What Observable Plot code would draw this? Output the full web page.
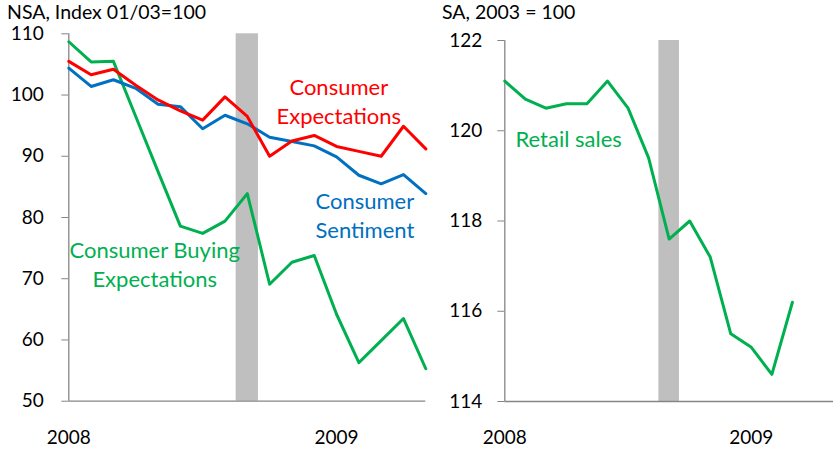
<!DOCTYPE html>
<html>
<head>
<meta charset="utf-8">
<script src="https://cdn.jsdelivr.net/npm/d3@7"></script>
<script src="https://cdn.jsdelivr.net/npm/@observablehq/plot@0.6"></script>
<style>
  html, body { margin: 0; padding: 0; background: #fff; }
  #wrap { position: relative; width: 833px; height: 456px; overflow: hidden; font-family: Lato, sans-serif; }
  .panel { position: absolute; top: 0; }
  .title { position: absolute; font-size: 19.5px; color: #000; white-space: nowrap; line-height: 22px; height: 22px; }
</style>
</head>
<body>
<div id="wrap">
  <div class="panel" id="left" style="left:0px;"></div>
  <div class="panel" id="right" style="left:430px;"></div>
  <div class="title" id="t1" style="left:7px; top:1px;">NSA, Index 01/03=100</div>
  <div class="title" id="t2" style="left:442px; top:1px;">SA, 2003 = 100</div>
</div>
<script>
// ---- data ----
const months = ["2008-01","2008-02","2008-03","2008-04","2008-05","2008-06","2008-07","2008-08","2008-09",
                "2008-10","2008-11","2008-12","2009-01","2009-02","2009-03","2009-04","2009-05"];
const buyingExpectations   = [108.7,105.4,105.5,96.5,87.5,78.6,77.4,79.4,83.9,69.1,72.7,73.8,64.2,56.3,59.9,63.5,55.3];
const consumerExpectations = [105.5,103.3,104.2,101.6,99.2,97.4,95.9,99.7,96.5,90.0,92.5,93.4,91.6,90.8,90.0,94.9,91.2];
const consumerSentiment    = [104.4,101.4,102.5,101.1,98.5,98.1,94.5,96.7,95.3,93.1,92.4,91.7,89.9,86.9,85.5,87.0,83.9];
const retailMonths = months.slice(0, 15);
const retailSales = [121.1,120.7,120.5,120.6,120.6,121.1,120.5,119.4,117.6,118.0,117.2,115.5,115.2,114.6,116.2];
const eventMonth = "2008-09";
const leftTicks = [50,60,70,80,90,100,110];
const rightTicks = [114,116,118,120,122];
const yearTicks = ["2008-01","2009-01"];

const C_GREEN = "#00B050", C_RED = "#FF0000", C_BLUE = "#0070C0", C_AXIS = "#868686", C_BAR = "#BFBFBF";

const rows = (vals, ms) => vals.map((v, i) => ({i, month: ms[i], v}));
const ev = months.indexOf(eventMonth);
const yearIdx = yearTicks.map(m => months.indexOf(m));
const fmtYear = i => months[i] ? months[i].slice(0, 4) : "";

const baseStyle = {fontFamily: "Lato, sans-serif", fontSize: "18px", color: "#000", background: "transparent", overflow: "visible"};

// ---- left panel ----
const left = Plot.plot({
  width: 426, height: 456,
  marginLeft: 68.3, marginRight: 0.7, marginTop: 33.3, marginBottom: 55.3,
  style: baseStyle,
  x: {type: "linear", domain: [0, 16], label: null},
  y: {domain: [50, 110], label: null},
  marks: [
    Plot.rect([ev], {x1: d => d - 0.5, x2: d => d + 0.5, y1: 50, y2: 110, fill: C_BAR}),
    Plot.ruleX([0], {stroke: C_AXIS, strokeWidth: 1.3}),
    Plot.ruleY([50], {stroke: C_AXIS, strokeWidth: 1.3}),
    Plot.axisY({ticks: leftTicks, label: null, tickSize: 7, tickPadding: 18, stroke: C_AXIS, fill: "#000", fontSize: 19}),
    Plot.axisX({ticks: yearIdx, label: null, tickFormat: fmtYear, tickSize: 0, tickPadding: 29, fill: "#000", fontSize: 19}),
    Plot.lineY(rows(buyingExpectations, months), {x: "i", y: "v", stroke: C_GREEN, strokeWidth: 3}),
    Plot.lineY(rows(consumerSentiment, months), {x: "i", y: "v", stroke: C_BLUE, strokeWidth: 3}),
    Plot.lineY(rows(consumerExpectations, months), {x: "i", y: "v", stroke: C_RED, strokeWidth: 3}),
    Plot.text(["Consumer Buying\nExpectations"], {x: 3.85, y: 72.5, fill: C_GREEN, fontSize: 22, lineHeight: 1.32}),
    Plot.text(["Consumer\nExpectations"], {x: 12.1, y: 99.2, fill: C_RED, fontSize: 22, lineHeight: 1.32}),
    Plot.text(["Consumer\nSentiment"], {x: 13.27, y: 80.6, fill: C_BLUE, fontSize: 22, lineHeight: 1.32})
  ]
});
document.getElementById("left").appendChild(left);

// ---- right panel ----
const right = Plot.plot({
  width: 403, height: 456,
  marginLeft: 74.3, marginRight: 0, marginTop: 40, marginBottom: 55,
  style: baseStyle,
  x: {type: "linear", domain: [0, 16], label: null},
  y: {domain: [114, 122], label: null},
  marks: [
    Plot.rect([ev], {x1: d => d - 0.5, x2: d => d + 0.5, y1: 114, y2: 122, fill: C_BAR}),
    Plot.ruleX([0], {stroke: C_AXIS, strokeWidth: 1.3}),
    Plot.ruleY([114], {stroke: C_AXIS, strokeWidth: 1.3}),
    Plot.axisY({ticks: rightTicks, label: null, tickSize: 7, tickPadding: 15.6, stroke: C_AXIS, fill: "#000", fontSize: 19}),
    Plot.axisX({ticks: yearIdx, label: null, tickFormat: fmtYear, tickSize: 0, tickPadding: 29, fill: "#000", fontSize: 19}),
    Plot.lineY(rows(retailSales, retailMonths), {x: "i", y: "v", stroke: C_GREEN, strokeWidth: 3}),
    Plot.text(["Retail sales"], {x: 0.52, y: 119.79, textAnchor: "start", fill: C_GREEN, fontSize: 22})
  ]
});
document.getElementById("right").appendChild(right);
</script>
</body>
</html>
